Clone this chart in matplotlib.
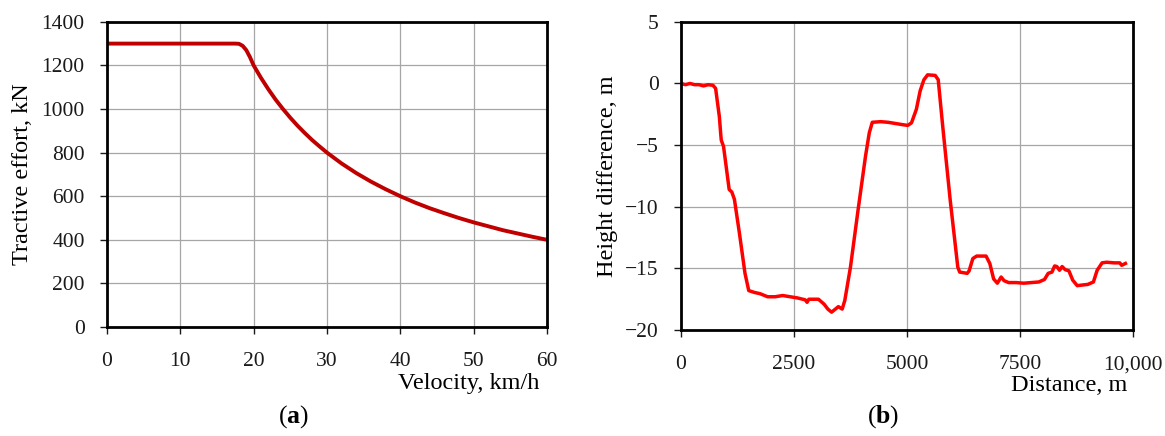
import matplotlib.pyplot as plt

plt.rcParams['font.family'] = 'Liberation Serif'
plt.rcParams['mathtext.fontset'] = 'custom'
plt.rcParams['mathtext.bf'] = 'Liberation Serif:bold'
plt.rcParams['mathtext.rm'] = 'Liberation Serif'

# (a) tractive effort curve
velocity = [0, 5, 10, 15, 17.5, 18, 18.5, 19, 19.5, 20, 21, 22, 23, 24, 25, 26, 27, 28, 29, 30,
            32, 34, 36, 38, 40, 42, 44, 46, 48, 50, 52, 54, 56, 58, 60]
effort = [1300, 1300, 1300, 1300, 1300, 1299, 1290, 1270, 1238, 1200, 1143, 1091, 1043, 1000, 960,
          923, 889, 857, 828, 800, 750, 706, 667, 632, 600, 571, 545, 522, 500, 480, 462, 444,
          429, 414, 400]

# (b) height profile
distance = [0, 100, 200, 300, 400, 500, 600, 708, 767, 850, 880, 892, 942, 1067, 1125, 1183, 1292,
            1417, 1500, 1625, 1750, 1917, 2083, 2250, 2417, 2583, 2750, 2790, 2830, 2917, 3042,
            3167, 3250, 3333, 3417, 3483, 3567, 3625, 3750, 3917, 4083, 4167, 4233, 4417, 4583,
            4750, 4917, 5017, 5100, 5208, 5292, 5375, 5458, 5625, 5692, 5792, 5958, 6125, 6167,
            6333, 6375, 6458, 6542, 6750, 6833, 6917, 7000, 7083, 7150, 7250, 7417, 7583, 7750,
            7917, 8042, 8125, 8208, 8267, 8317, 8375, 8433, 8500, 8583, 8667, 8767, 8875, 9000,
            9125, 9208, 9317, 9417, 9583, 9708, 9750, 9833]
height = [0, -0.1, 0.0, -0.1, -0.1, -0.2, -0.1, -0.15, -0.4, -2.7, -4.1, -4.6, -5.1, -8.6, -8.8,
          -9.4, -12.1, -15.4, -16.8, -16.95, -17.05, -17.3, -17.3, -17.2, -17.3, -17.4, -17.55,
          -17.75, -17.5, -17.5, -17.5, -17.9, -18.3, -18.55, -18.3, -18.1, -18.3, -17.6, -14.9,
          -10.3, -5.9, -4.0, -3.15, -3.1, -3.15, -3.25, -3.35, -3.4, -3.2, -2.1, -0.6, 0.3, 0.7,
          0.65, 0.3, -3.5, -9.5, -14.9, -15.3, -15.4, -15.2, -14.2, -14.0, -14.0, -14.6, -15.85,
          -16.2, -15.7, -16.0, -16.15, -16.15, -16.2, -16.15, -16.1, -15.9, -15.4, -15.3, -14.8,
          -14.85, -15.15, -14.85, -15.1, -15.2, -15.95, -16.4, -16.35, -16.3, -16.1, -15.15,
          -14.55, -14.5, -14.55, -14.55, -14.75, -14.6]

x_ticks_b = [0, 2500, 5000, 7500, 10000]
x_labels_b = ['0', '2500', '5000', '7500', '10,000']

fig = plt.figure(figsize=(11.65, 4.36), dpi=100)
ax1 = fig.add_axes([0.0918, 0.250, 0.3777, 0.700])
ax2 = fig.add_axes([0.5845, 0.243, 0.3880, 0.707])


def style(ax):
    for s in ax.spines.values():
        s.set_linewidth(2.0)
        s.set_color('black')
    ax.grid(True, color='#a6a6a6', linewidth=0.9)
    ax.set_axisbelow(True)
    ax.tick_params(direction='out', length=5, width=1, labelsize=15.5, colors='#1a1a1a')
    ax.tick_params(axis='y', pad=11)
    ax.tick_params(axis='x', pad=13)
    ax.tick_params(top=False, right=False)


ax1.plot(velocity, effort, color='#c00000', linewidth=2.8, solid_capstyle='butt')
ax1.set_xlim(0, 60)
ax1.set_ylim(0, 1400)
ax1.set_xticks(range(0, 61, 10))
ax1.set_yticks(range(0, 1401, 200))
style(ax1)
ax1.set_ylabel('Tractive effort, kN', fontsize=17.5)
ax1.set_xlabel('Velocity, km/h', fontsize=17.5, ha='right', va='center')
ax1.xaxis.set_label_coords(0.982, -0.185)
ax1.yaxis.set_label_coords(-0.168, 0.5)

ax2.plot(distance, height, color='#ff0000', linewidth=2.5)
ax2.set_xlim(0, 10000)
ax2.set_ylim(-20, 5)
ax2.set_xticks(x_ticks_b)
ax2.set_xticklabels(x_labels_b)
ax2.set_yticks(range(-20, 6, 5))
style(ax2)
ax2.set_ylabel('Height difference, m', fontsize=17.5)
ax2.set_xlabel('Distance, m', fontsize=17.5, ha='right', va='center')
ax2.xaxis.set_label_coords(0.987, -0.18)
ax2.yaxis.set_label_coords(-0.139, 0.5)

fig.text(0.2515, 0.045, r'($\mathbf{a}$)', fontsize=18.5, ha='center', va='center')
fig.text(0.758, 0.045, r'($\mathbf{b}$)', fontsize=18.5, ha='center', va='center')

fig.savefig('out.png', dpi=100)
